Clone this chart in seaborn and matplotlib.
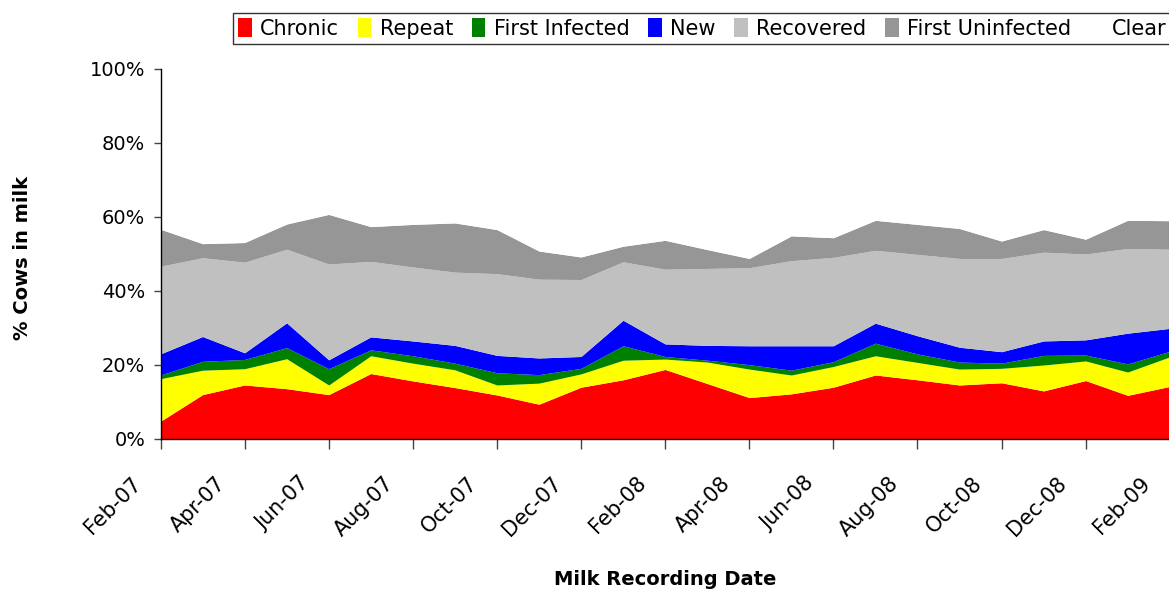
import numpy as np
import pandas as pd
import matplotlib
matplotlib.use("Agg")
import matplotlib.pyplot as plt
from matplotlib.patches import Patch
from matplotlib.ticker import PercentFormatter
import seaborn as sns

# monthly milk recordings, Feb-07 .. Feb-09 (% of cows in milk)
chronic = [4.8, 12.0, 14.6, 13.6, 12.0, 17.7, 15.7, 13.9, 11.9, 9.4, 14.0, 16.0, 18.8,
           15.0, 11.2, 12.2, 14.0, 17.3, 16.0, 14.6, 15.2, 13.0, 15.8, 11.8, 14.2]
repeat = [11.5, 6.6, 4.4, 8.1, 2.6, 4.8, 4.8, 4.8, 2.7, 5.7, 3.6, 5.3, 2.8,
          5.8, 7.7, 5.1, 5.6, 5.2, 4.7, 4.3, 3.9, 7.0, 5.3, 6.3, 8.0]
first_infected = [1.0, 2.4, 2.5, 3.0, 4.4, 1.6, 2.0, 1.8, 3.3, 2.3, 1.5, 3.9, 0.7,
                  0.5, 1.2, 1.3, 1.3, 3.4, 2.3, 1.9, 1.4, 2.6, 1.6, 2.2, 1.5]
new = [5.7, 6.7, 1.8, 6.7, 2.4, 3.5, 4.0, 4.8, 4.7, 4.5, 3.2, 6.9, 3.4,
       4.0, 5.1, 6.6, 4.3, 5.4, 4.9, 4.0, 3.1, 3.9, 4.1, 8.3, 6.2]
recovered = [23.7, 21.3, 24.5, 19.9, 25.9, 20.4, 20.0, 19.8, 22.1, 21.3, 20.8, 15.8, 20.2,
             20.8, 21.1, 23.0, 23.9, 19.7, 22.0, 24.0, 25.2, 24.0, 23.2, 22.9, 21.4]
first_uninfected = [10.0, 3.8, 5.3, 6.8, 13.4, 9.4, 11.5, 13.3, 11.9, 7.6, 6.1, 4.2, 7.8,
                    5.1, 2.5, 6.7, 5.3, 8.1, 8.1, 8.1, 4.7, 6.1, 4.0, 7.6, 7.7]
clear = [43.3, 47.2, 46.9, 41.9, 39.3, 42.6, 42.0, 41.6, 43.4, 49.2, 50.8, 47.9, 46.3,
         48.8, 51.2, 45.1, 45.6, 40.9, 42.0, 43.1, 46.5, 43.4, 46.0, 40.9, 41.0]

series_names = ["Chronic", "Repeat", "First Infected", "New", "Recovered",
                "First Uninfected", "Clear"]
tick_labels = ["Feb-07", "Apr-07", "Jun-07", "Aug-07", "Oct-07", "Dec-07", "Feb-08",
               "Apr-08", "Jun-08", "Aug-08", "Oct-08", "Dec-08", "Feb-09"]
colors = ["#ff0000", "#ffff00", "#008000", "#0000ff", "#c0c0c0", "#969696", "#ffffff"]

df = pd.DataFrame({
    "Chronic": chronic, "Repeat": repeat, "First Infected": first_infected,
    "New": new, "Recovered": recovered, "First Uninfected": first_uninfected,
    "Clear": clear,
})
x = np.arange(len(df))

sns.set_theme(style="white")
plt.rcParams["font.family"] = ["DejaVu Sans"]
plt.rcParams["text.color"] = "black"
plt.rcParams["axes.labelcolor"] = "black"
plt.rcParams["xtick.color"] = "black"
plt.rcParams["ytick.color"] = "black"

fig = plt.figure(figsize=(11.69, 5.96), dpi=100)
ax = fig.add_axes([160.5 / 1169, 1 - 439 / 596, 1009.2 / 1169, 370 / 596])

ax.stackplot(x, [df[c] for c in series_names], colors=colors, linewidth=0)

ax.set_xlim(0, len(df) - 1)
ax.set_ylim(0, 100)
ax.yaxis.set_major_formatter(PercentFormatter(decimals=0))
ax.set_yticks(range(0, 101, 20))
ax.set_xticks(x[::2])
ax.set_xticklabels([])
# rotated date labels, sitting a little left of their ticks like the original
for pos, lab in zip(x[::2], tick_labels):
    ax.annotate(lab, xy=(pos, 0), xycoords=("data", "axes fraction"),
                xytext=(-11, -24.5), textcoords="offset points",
                rotation=45, ha="right", va="top", fontsize=15,
                annotation_clip=False)

for side in ["top", "right"]:
    ax.spines[side].set_visible(False)
for side in ["left", "bottom"]:
    ax.spines[side].set_color("black")
    ax.spines[side].set_linewidth(1.0)

ax.tick_params(axis="y", left=True, direction="out", length=5, width=1,
               color="#444444", labelsize=14, pad=6)
ax.tick_params(axis="x", bottom=True, direction="out", length=7, width=1,
               color="#444444")

ax.set_ylabel("% Cows in milk", fontsize=14, fontweight="bold")
ax.set_xlabel("Milk Recording Date", fontsize=14, fontweight="bold")
ax.yaxis.set_label_coords(-0.127, 0.49)
ax.xaxis.set_label_coords(0.5, -0.355)

handles = [Patch(facecolor=c, edgecolor="none") for c in colors]
leg = fig.legend(handles, series_names, ncol=7, loc="upper left",
                 bbox_to_anchor=(233 / 1169, 1 - 13 / 596), fontsize=15,
                 frameon=True, fancybox=False, handlelength=0.65, handleheight=1.0,
                 handletextpad=0.4, columnspacing=0.9, borderpad=0.25,
                 borderaxespad=0)
leg.get_frame().set_edgecolor("black")
leg.get_frame().set_linewidth(1.0)

fig.savefig("out.png", dpi=100)
